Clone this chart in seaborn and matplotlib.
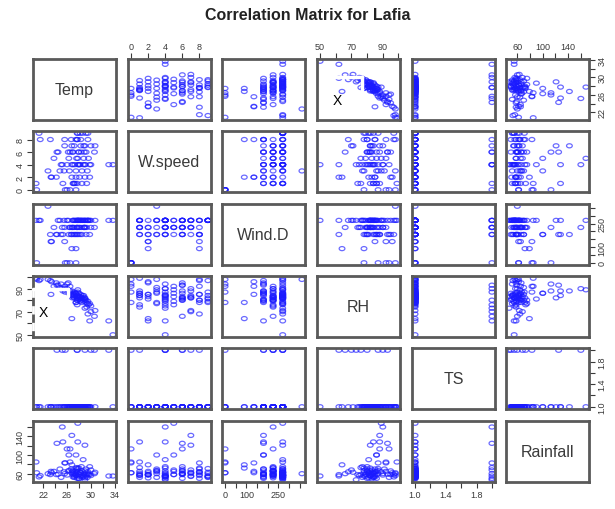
import numpy as np
import pandas as pd
import matplotlib
matplotlib.use("Agg")
import matplotlib.pyplot as plt
from matplotlib.path import Path
from matplotlib.lines import Line2D
import seaborn as sns

# Lafia weather records, one entry per observation
temp = [20.8, 20.9, 21.3, 21.5, 22.8, 23.2, 23.4, 24.2, 23.8, 24.8,
        25.0, 25.3, 25.6, 26.0, 26.2, 26.3, 26.5, 26.5, 26.7, 26.8,
        26.8, 27.0, 27.0, 27.2, 27.2, 27.3, 27.5, 27.5, 27.5, 27.6,
        27.7, 27.7, 27.8, 27.8, 27.9, 28.0, 28.0, 28.1, 28.2, 28.2,
        28.3, 28.4, 28.5, 28.5, 28.6, 28.7, 28.8, 28.9, 29.0, 29.0,
        29.2, 29.2, 29.4, 29.5, 29.5, 29.8, 29.8, 30.0, 30.7, 26.8,
        27.5, 25.6, 23.3, 33.7, 26.0, 27.0, 28.0, 29.0, 27.4, 27.1,
        26.4, 28.8, 24.5, 25.5, 29.6, 28.3, 27.8, 26.9, 29.3,
        33.0, 30.6, 30.0, 27.7, 27.7, 25.7, 25.2, 24.3, 29.0]
wspeed = [1, 0, 9, 8, 3, 8, 2, 2, 5, 3,
          4, 1, 7, 0, 6, 5, 0, 6, 8, 7,
          4, 6, 1, 7, 1, 4, 0, 3, 2, 5,
          9, 8, 4, 5, 6, 4, 6, 2, 9, 4,
          7, 6, 1, 3, 9, 4, 5, 6, 7, 4,
          9, 6, 3, 9, 8, 4, 2, 4, 7, 2,
          8, 8, 2, 4, 4, 4, 4, 2, 1, 1,
          3, 7, 6, 3, 5, 8, 9, 6, 1,
          4, 6, 7, 8, 1, 0, 4, 6, 4]
wind_d = [270, 0, 270, 270, 360, 180, 135, 180, 225, 270,
          180, 180, 225, 0, 270, 180, 0, 225, 180, 180,
          225, 270, 225, 225, 270, 180, 0, 180, 270, 225,
          270, 225, 270, 270, 180, 225, 270, 225, 270, 180,
          270, 225, 270, 180, 270, 270, 225, 270, 270, 225,
          270, 180, 270, 270, 270, 270, 180, 225, 270, 90,
          90, 135, 135, 270, 270, 270, 270, 225, 270, 180,
          225, 225, 270, 270, 270, 270, 270, 225, 225,
          270, 225, 270, 180, 225, 0, 225, 180, 270]
rh = [99, 98, 97, 98, 98, 97, 96, 95, 92, 91,
      94, 88, 90, 94, 95, 86, 92, 88, 85, 88,
      84, 83, 86, 82, 84, 87, 78, 86, 85, 83,
      82, 80, 84, 89, 81, 82, 86, 83, 81, 79,
      83, 80, 82, 78, 84, 81, 79, 82, 82, 80,
      78, 80, 77, 79, 68, 77, 62, 75, 71, 64,
      78, 92, 85, 50, 90, 85, 83, 81, 86, 84,
      87, 84, 93, 89, 76, 85, 87, 82, 74,
      62, 66, 70, 80, 76, 87, 90, 93, 73]
ts = [1] * 79 + [2] * 9
rainfall = [85, 62, 53, 56, 60, 58, 62, 58, 65, 70,
            52, 128, 60, 113, 66, 100, 85, 113, 70, 142,
            62, 58, 65, 55, 52, 60, 62, 100, 57, 68,
            55, 64, 128, 168, 60, 72, 50, 58, 63, 54,
            62, 75, 56, 66, 52, 90, 58, 61, 121, 66,
            55, 70, 52, 60, 64, 75, 58, 56, 63, 79,
            72, 83, 65, 55, 57, 53, 49, 51, 57, 61,
            67, 54, 59, 64, 58, 62, 71, 66, 58,
            55, 60, 68, 50, 73, 83, 160, 125, 47]

names = ["Temp", "W.speed", "Wind.D", "RH", "TS", "Rainfall"]
df = pd.DataFrame({"Temp": temp, "W.speed": wspeed, "Wind.D": wind_d,
                   "RH": rh, "TS": ts, "Rainfall": rainfall})

tick_pos = {
    "Temp": [22, 24, 26, 28, 30, 32, 34],
    "W.speed": [0, 2, 4, 6, 8],
    "Wind.D": [0, 50, 100, 150, 200, 250, 300, 350],
    "RH": [50, 60, 70, 80, 90, 100],
    "TS": [1.0, 1.2, 1.4, 1.6, 1.8, 2.0],
    "Rainfall": [60, 80, 100, 120, 140, 160],
}
tick_txt = {
    "Temp": ["22", "", "26", "", "30", "", "34"],
    "W.speed": ["0", "2", "4", "6", "8"],
    "Wind.D": ["0", "", "100", "", "", "250", "", ""],
    "RH": ["50", "", "70", "", "90", ""],
    "TS": ["1.0", "", "1.4", "", "1.8", ""],
    "Rainfall": ["60", "", "100", "", "140", ""],
}

sns.set_style("white")
plt.rcParams["font.family"] = ["Liberation Sans", "DejaVu Sans"]

W, H = 615, 510
fig = plt.figure(figsize=(W / 100, H / 100), dpi=100)

col_left = [33, 128, 222, 317, 412, 506]
row_top = [60, 132, 205, 277, 349, 422]
pw, ph = 83, 61

theta = np.linspace(0, 2 * np.pi, 41)
ring = Path(np.column_stack([1.4 * np.cos(theta), np.sin(theta)]), closed=True)

BLUE = "#1a1aff"
FRAME = "#5a5a5a"
TXT = "#3a3a3a"


def limits(v):
    lo, hi = min(df[v]), max(df[v])
    r = hi - lo
    return lo - 0.04 * r, hi + 0.04 * r


n = len(names)
for i in range(n):
    for j in range(n):
        ax = fig.add_axes([col_left[j] / W, 1 - (row_top[i] + ph) / H, pw / W, ph / H])
        ax.set_xlim(limits(names[j]))
        ax.set_ylim(limits(names[i]))
        if i == j:
            ax.text(0.5, 0.5, names[i], transform=ax.transAxes, ha="center",
                    va="center", fontsize=11.5, color=TXT)
        else:
            sns.scatterplot(data=df, x=names[j], y=names[i], ax=ax, marker=ring,
                            s=17, facecolor="none", edgecolor=BLUE,
                            linewidth=0.9, alpha=0.65, legend=False)
        ax.set_xlabel("")
        ax.set_ylabel("")
        ax.set_xticks([])
        ax.set_yticks([])
        for sp in ax.spines.values():
            sp.set_color(FRAME)
            sp.set_linewidth(2)
        tp = dict(direction="out", length=4, width=0.8, pad=2,
                  labelsize=6.5, colors=TXT)
        # x axis: top on first row for even columns, bottom on last row for odd
        if i == 0 and j % 2 == 1:
            ax.set_xticks(tick_pos[names[j]])
            ax.set_xticklabels(tick_txt[names[j]])
            ax.tick_params(axis="x", top=True, labeltop=True, bottom=False,
                           labelbottom=False, **tp)
        if i == n - 1 and j % 2 == 0:
            ax.set_xticks(tick_pos[names[j]])
            ax.set_xticklabels(tick_txt[names[j]])
            ax.tick_params(axis="x", bottom=True, labelbottom=True, **tp)
        # y axis: left on first column for even rows, right on last column for odd
        if j == 0 and i % 2 == 1:
            ax.set_yticks(tick_pos[names[i]])
            ax.set_yticklabels(tick_txt[names[i]], rotation=90, va="center")
            ax.tick_params(axis="y", left=True, labelleft=True, **tp)
        if j == n - 1 and i % 2 == 0:
            ax.set_yticks(tick_pos[names[i]])
            ax.set_yticklabels(tick_txt[names[i]], rotation=90, va="center")
            ax.tick_params(axis="y", right=True, labelright=True, left=False,
                           labelleft=False, **tp)


def px(x, y):
    return x / W, 1 - y / H


def seg(x0, y0, x1, y1, **kw):
    (a, b), (c, d) = px(x0, y0), px(x1, y1)
    fig.add_artist(Line2D([a, c], [b, d], transform=fig.transFigure,
                          color="white", **kw))


# marked corners with their "X" notes
seg(333, 78, 362, 78, lw=2.5)
seg(362, 78, 362, 93, lw=2.5)
fig.text(*px(337, 101), "X", ha="center", va="center", fontsize=10, color="black")

seg(33, 290, 68, 290, lw=2.5)
seg(68, 290, 68, 297, lw=2.5)
seg(33, 290, 33, 332, lw=2.0, ls=(0, (3, 3)))
fig.text(*px(43, 313), "X", ha="center", va="center", fontsize=10, color="black")

fig.text(0.5, 1 - 16 / H, "Correlation Matrix for Lafia", ha="center",
         va="center", fontsize=11.5, fontweight="bold", color="#222222")

fig.savefig("out.png", dpi=100)
